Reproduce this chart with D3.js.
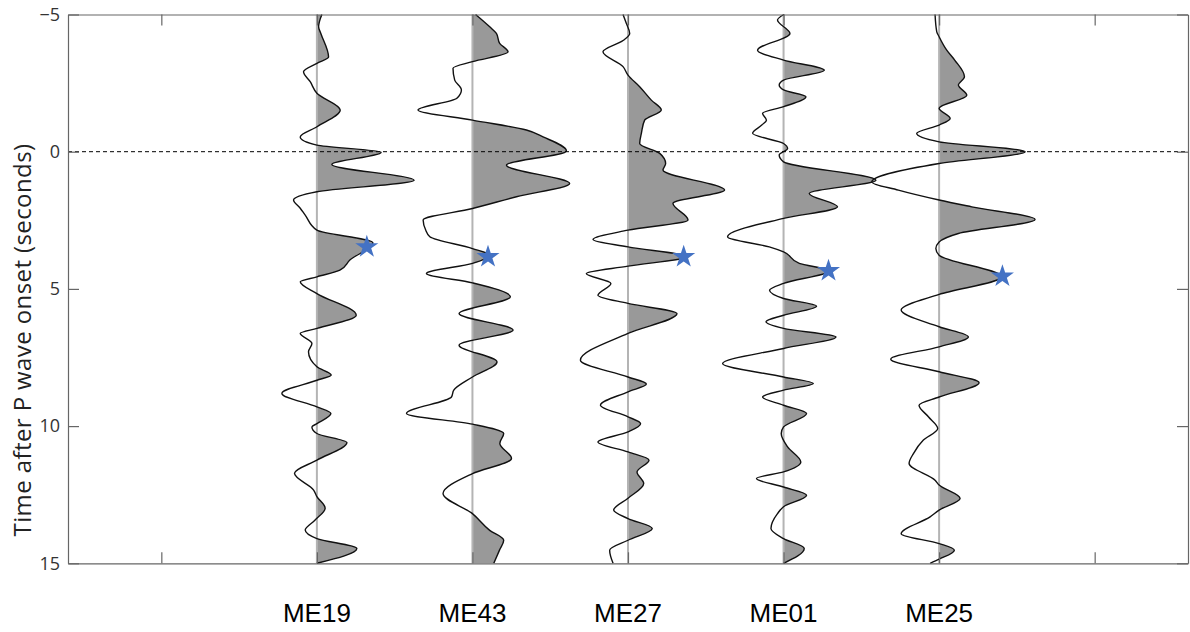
<!DOCTYPE html>
<html>
<head>
<meta charset="utf-8">
<script src="https://cdn.jsdelivr.net/npm/d3@7"></script>
<style>
  html, body { margin: 0; padding: 0; background: #fff; }
  svg { display: block; }
</style>
</head>
<body>
<svg id="chart" width="1190" height="632"></svg>
<script>
// Station names, in plotting order (trace 1 sits at x = 2, etc.)
const stations = ["ME19", "ME43", "ME27", "ME01", "ME25"];
const timeTicks = [-5, 0, 5, 10, 15];
const stationTicks = [1, 2, 3, 4, 5, 6, 7];

// Waveform samples: [time after P onset (s), normalised amplitude]
const me19 = [
  [-5.00, 0.032], [-4.55, 0.011], [-4.30, 0.026], [-3.45, 0.075], [-3.22, 0.000],
  [-2.91, -0.086], [-2.55, -0.043], [-2.13, 0.000], [-1.52, 0.150], [-0.91, 0.000],
  [-0.54, -0.107], [-0.24, 0.000], [0.02, 0.413], [0.47, 0.096], [1.04, 0.625],
  [1.46, 0.000], [1.76, -0.150], [2.06, -0.107], [2.31, -0.075], [2.86, 0.000],
  [3.32, 0.360], [3.95, 0.212], [4.32, 0.148], [4.56, 0.000], [4.74, -0.107],
  [5.17, 0.000], [5.96, 0.253], [6.44, 0.000], [6.62, -0.107], [6.99, -0.032],
  [7.29, -0.054], [7.84, 0.000], [8.14, 0.092], [8.33, 0.000], [8.81, -0.225],
  [9.30, 0.000], [9.54, 0.090], [9.91, 0.000], [10.03, -0.032], [10.27, 0.000],
  [10.60, 0.193], [11.24, 0.000], [11.72, -0.144], [12.33, -0.021], [12.57, 0.000],
  [12.99, 0.053], [13.43, -0.013], [13.79, -0.075], [14.10, 0.000], [14.46, 0.257],
  [15.00, 0.000]
];
const me43 = [
  [-5.00, 0.020], [-4.55, 0.111], [-4.31, 0.154], [-3.95, 0.175], [-3.64, 0.229],
  [-3.28, 0.000], [-3.04, -0.125], [-2.61, -0.114], [-2.25, -0.071], [-1.95, -0.100],
  [-1.52, -0.350], [-1.15, 0.000], [-0.79, 0.347], [-0.54, 0.454], [-0.03, 0.604],
  [0.49, 0.219], [1.16, 0.625], [1.64, 0.283], [2.07, 0.000], [2.49, -0.317],
  [2.86, -0.300], [3.10, -0.274], [3.53, 0.000], [3.77, 0.110], [4.07, 0.000],
  [4.44, -0.296], [4.78, 0.000], [5.29, 0.244], [5.90, -0.086], [6.50, 0.261],
  [7.05, -0.086], [7.66, 0.158], [8.21, 0.000], [8.69, -0.120], [8.94, -0.135],
  [9.54, -0.424], [9.93, 0.000], [10.27, 0.201], [10.63, 0.176], [11.18, 0.251],
  [11.73, 0.000], [12.46, -0.189], [13.19, 0.000], [13.80, 0.111], [14.16, 0.201],
  [14.52, 0.174], [15.00, 0.137]
];
const me27 = [
  [-5.00, -0.032], [-4.68, -0.011], [-4.31, 0.011], [-4.05, -0.032], [-3.64, -0.161],
  [-3.10, -0.032], [-2.79, 0.000], [-2.37, 0.075], [-1.88, 0.150], [-1.52, 0.214],
  [-1.15, 0.107], [-0.67, 0.086], [-0.30, 0.075], [0.06, 0.204], [0.43, 0.242],
  [0.67, 0.225], [1.40, 0.621], [1.88, 0.289], [2.49, 0.386], [2.86, 0.000],
  [3.20, -0.225], [3.47, 0.000], [3.83, 0.375], [4.17, 0.000], [4.44, -0.268],
  [4.80, -0.110], [5.23, -0.193], [5.53, 0.000], [5.90, 0.315], [6.62, 0.000],
  [7.60, -0.306], [8.21, 0.000], [8.47, 0.118], [8.75, 0.000], [9.24, -0.177],
  [9.66, 0.000], [9.91, 0.081], [10.21, 0.000], [10.58, -0.193], [10.94, 0.000],
  [11.24, 0.135], [11.67, 0.058], [12.09, 0.101], [12.63, 0.000], [13.06, -0.092],
  [13.37, 0.000], [13.73, 0.156], [14.16, 0.000], [14.52, -0.118], [15.00, -0.096]
];
const me01 = [
  [-5.00, 0.003], [-4.80, -0.039], [-4.31, 0.041], [-3.70, -0.167], [-3.34, 0.000],
  [-2.97, 0.262], [-2.61, 0.000], [-2.43, -0.028], [-2.25, 0.000], [-2.00, 0.144],
  [-1.64, 0.000], [-1.40, -0.135], [-1.15, -0.110], [-0.97, -0.140], [-0.67, -0.199],
  [-0.30, 0.000], [-0.12, 0.026], [0.12, -0.028], [0.37, 0.000], [1.04, 0.594],
  [1.52, 0.165], [2.01, 0.347], [2.43, 0.000], [3.10, -0.360], [3.47, -0.092],
  [3.65, 0.000], [4.07, 0.101], [4.34, 0.294], [4.80, 0.000], [5.05, -0.090],
  [5.35, 0.000], [5.63, 0.212], [5.96, 0.000], [6.20, -0.113], [6.44, 0.000],
  [6.75, 0.337], [7.17, 0.000], [7.72, -0.392], [8.21, 0.000], [8.45, 0.191],
  [8.69, 0.000], [8.94, -0.135], [9.24, 0.000], [9.54, 0.148], [10.03, 0.000],
  [10.27, -0.015], [10.76, 0.026], [11.31, 0.111], [11.67, 0.000], [11.91, -0.174],
  [12.22, 0.000], [12.52, 0.148], [12.94, 0.000], [13.19, -0.039], [13.73, -0.081],
  [14.10, 0.000], [14.46, 0.133], [15.00, 0.000]
];
const me25 = [
  [-5.00, -0.026], [-4.37, -0.015], [-4.19, 0.000], [-3.70, 0.049], [-3.34, 0.100],
  [-2.73, 0.163], [-2.43, 0.124], [-2.06, 0.178], [-1.58, 0.000], [-1.21, 0.071],
  [-0.97, 0.000], [-0.67, -0.144], [-0.36, 0.000], [0.00, 0.553], [0.43, 0.000],
  [1.10, -0.433], [1.40, -0.262], [1.76, 0.000], [2.01, 0.210], [2.47, 0.617],
  [2.98, 0.124], [3.29, 0.000], [3.53, -0.021], [3.77, 0.000], [4.56, 0.402],
  [5.20, 0.000], [5.77, -0.244], [6.38, 0.000], [6.75, 0.188], [7.11, 0.000],
  [7.56, -0.311], [8.02, 0.000], [8.42, 0.257], [8.94, 0.000], [9.24, -0.129],
  [9.66, -0.069], [10.09, -0.009], [10.51, -0.101], [11.00, -0.165], [11.36, -0.193],
  [11.97, -0.026], [12.15, 0.000], [12.64, 0.135], [13.06, 0.000], [13.31, -0.058],
  [13.92, -0.244], [14.28, 0.000], [14.52, 0.098], [14.85, 0.000], [15.00, -0.058]
];
const traces = [me19, me43, me27, me01, me25];

// Picked S arrivals: time (s) and amplitude at the pick
const pickTimes = [3.47, 3.83, 3.83, 4.34, 4.54];
const pickAmps = [0.321, 0.100, 0.358, 0.289, 0.407];

const svg = d3.select("#chart");

const x = d3.scaleLinear().domain([0.4, 7.6]).range([68, 1188]);
const y = d3.scaleLinear().domain([-5, 15]).range([14.5, 563.3]);

// Clip paths keep the shading on the positive side of each trace
const defs = svg.append("defs");
stations.forEach((s, i) => {
  const base = i + 2;
  defs.append("clipPath").attr("id", "pos-" + s)
    .append("rect")
    .attr("x", x(base)).attr("y", y(-5))
    .attr("width", x(7.6) - x(base)).attr("height", y(15) - y(-5));
});

const gTraces = svg.append("g");

stations.forEach((s, i) => {
  const base = i + 2;
  const data = traces[i];
  const area = d3.area()
    .y(d => y(d[0]))
    .x0(x(base))
    .x1(d => x(base + d[1]))
    .curve(d3.curveMonotoneY);
  gTraces.append("path")
    .datum(data)
    .attr("d", area)
    .attr("fill", "#999999")
    .attr("clip-path", `url(#pos-${s})`);
});

// Zero-amplitude reference lines
stations.forEach((s, i) => {
  gTraces.append("line")
    .attr("x1", x(i + 2)).attr("x2", x(i + 2))
    .attr("y1", y(-5)).attr("y2", y(15))
    .attr("stroke", "#b4b4b4")
    .attr("stroke-width", 2);
});

stations.forEach((s, i) => {
  const base = i + 2;
  const line = d3.line()
    .y(d => y(d[0]))
    .x(d => x(base + d[1]))
    .curve(d3.curveMonotoneY);
  gTraces.append("path")
    .datum(traces[i])
    .attr("d", line)
    .attr("fill", "none")
    .attr("stroke", "#111")
    .attr("stroke-width", 1.4);
});

// P-wave onset
svg.append("line")
  .attr("x1", x(0.4)).attr("x2", x(7.6))
  .attr("y1", y(0)).attr("y2", y(0))
  .attr("stroke", "#000")
  .attr("stroke-width", 1)
  .attr("stroke-dasharray", "4,3");

// S picks
const star = d3.symbol().type(d3.symbolStar).size(165);
stations.forEach((s, i) => {
  svg.append("path")
    .attr("d", star)
    .attr("transform", `translate(${x(i + 2 + pickAmps[i])},${y(pickTimes[i])})`)
    .attr("fill", "#4472C4");
});

// Axes (ticks point inward)
const axisColor = "#666";
function styleAxis(g) {
  g.selectAll("path.domain").attr("stroke", axisColor).attr("stroke-width", 1.2);
  g.selectAll(".tick line").attr("stroke", axisColor).attr("stroke-width", 1.2);
}

svg.append("g")
  .attr("transform", `translate(${x(0.4)},0)`)
  .call(d3.axisLeft(y).tickValues(timeTicks).tickSize(-11).tickSizeOuter(0).tickPadding(8))
  .call(styleAxis)
  .call(g => g.selectAll("text")
    .attr("font-family", "'Open Sans', sans-serif")
    .attr("font-size", 18)
    .attr("fill", "#333"));

svg.append("g")
  .attr("transform", `translate(${x(7.6)},0)`)
  .call(d3.axisRight(y).tickValues(timeTicks).tickSize(-11).tickSizeOuter(0).tickFormat(""))
  .call(styleAxis);

svg.append("g")
  .attr("transform", `translate(0,${y(-5)})`)
  .call(d3.axisTop(x).tickValues(stationTicks).tickSize(-11).tickSizeOuter(0).tickFormat(""))
  .call(styleAxis);

svg.append("g")
  .attr("transform", `translate(0,${y(15)})`)
  .call(d3.axisBottom(x).tickValues(stationTicks).tickSize(-11).tickSizeOuter(0).tickFormat(""))
  .call(styleAxis);

// Station names under each trace
svg.append("g")
  .selectAll("text")
  .data(stations)
  .join("text")
  .attr("x", (d, i) => x(i + 2))
  .attr("y", 622)
  .attr("text-anchor", "middle")
  .attr("font-family", "'Liberation Sans', Arial, sans-serif")
  .attr("font-size", 26)
  .attr("fill", "#000")
  .text(d => d);

// Y-axis title
svg.append("text")
  .attr("transform", "translate(31,340) rotate(-90)")
  .attr("text-anchor", "middle")
  .attr("font-family", "'Open Sans', sans-serif")
  .attr("font-size", 24)
  .attr("letter-spacing", 0.4)
  .attr("fill", "#222")
  .text("Time after P wave onset (seconds)");
</script>
</body>
</html>
